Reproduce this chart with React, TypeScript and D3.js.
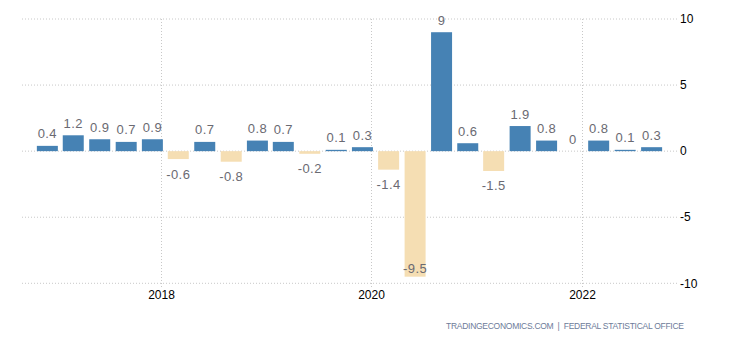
import React from "react";
import * as d3 from "d3";

const quarters = [
  "2016-12", "2017-03", "2017-06", "2017-09", "2017-12", "2018-03", "2018-06", "2018-09",
  "2018-12", "2019-03", "2019-06", "2019-09", "2019-12", "2020-03", "2020-06", "2020-09",
  "2020-12", "2021-03", "2021-06", "2021-09", "2021-12", "2022-03", "2022-06", "2022-09",
];
const values = [
  0.4, 1.2, 0.9, 0.7, 0.9, -0.6, 0.7, -0.8,
  0.8, 0.7, -0.2, 0.1, 0.3, -1.4, -9.5, 9,
  0.6, -1.5, 1.9, 0.8, 0, 0.8, 0.1, 0.3,
];
const yTicks = [10, 5, 0, -5, -10];
const xTicks = ["2018", "2020", "2022"];
const sourceText = "TRADINGECONOMICS.COM  |  FEDERAL STATISTICAL OFFICE";

const W = 730;
const H = 340;
const plotLeft = 22;
const plotRight = 677;
const plotTop = 19;
const plotBottom = 283.3;

export default function App() {
  const parse = d3.timeParse("%Y-%m");
  const dates = quarters.map((q) => parse(q) as Date);
  const x = d3
    .scaleTime()
    .domain([new Date(2018, 0, 1), new Date(2022, 0, 1)])
    .range([161.3, 581.7]);
  const y = d3.scaleLinear().domain([-10, 10]).range([plotBottom, plotTop]);
  const barW = 21;
  const font = "'Liberation Sans', Arial, sans-serif";

  return (
    <svg
      width={W}
      height={H}
      style={{ position: "absolute", left: 0, top: 0, background: "#fff" }}
      fontFamily={font}
    >
      {yTicks.map((t) => (
        <line
          key={"h" + t}
          x1={plotLeft}
          x2={plotRight}
          y1={y(t)}
          y2={y(t)}
          stroke="#c8c8c8"
          strokeWidth={1}
          strokeDasharray="1,2"
        />
      ))}
      {xTicks.map((t) => {
        const xx = Math.round(x(new Date(+t, 0, 1))) + 0.5;
        return (
          <g key={"v" + t}>
            <line
              x1={xx}
              x2={xx}
              y1={plotTop}
              y2={plotBottom + 4}
              stroke="#c8c8c8"
              strokeWidth={1}
              strokeDasharray="1,2"
            />
            <text x={xx} y={299} textAnchor="middle" fontSize={12} fill="#000">
              {t}
            </text>
          </g>
        );
      })}
      {yTicks.map((t) => (
        <text
          key={"yl" + t}
          x={680}
          y={y(t)}
          dy="0.35em"
          fontSize={12}
          fill="#000"
        >
          {t}
        </text>
      ))}
      {values.map((v, i) => {
        const cx = x(dates[i]);
        const y0 = y(0);
        const yv = y(v);
        return (
          <rect
            key={"b" + i}
            x={cx - barW / 2}
            y={Math.min(y0, yv)}
            width={barW}
            height={Math.abs(yv - y0)}
            fill={v >= 0 ? "#4682b4" : "#f5deb3"}
          />
        );
      })}
      {values.map((v, i) => {
        const cx = x(dates[i]);
        let ly: number;
        if (v >= 0) {
          ly = y(v) - 7.5;
        } else {
          ly = y(v) + 19.5;
          if (ly > plotBottom) ly = y(v) - 4;
        }
        return (
          <text
            key={"l" + i}
            x={cx}
            y={ly}
            textAnchor="middle"
            fontSize={13}
            fill="#6a6a72"
            letterSpacing={0.4}
          >
            {v}
          </text>
        );
      })}
      <text
        x={684}
        y={329}
        textAnchor="end"
        fontSize={8.5}
        fill="#6d7b99"
        textLength={238}
        lengthAdjust="spacing"
        style={{ whiteSpace: "pre" }}
      >
        {sourceText}
      </text>
    </svg>
  );
}
